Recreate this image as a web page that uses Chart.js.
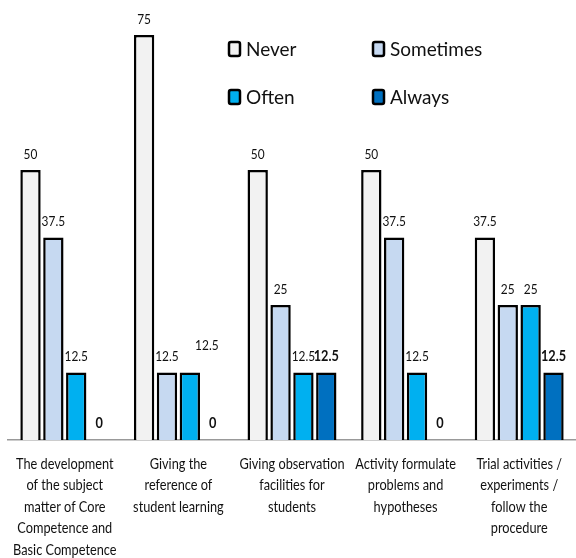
<!DOCTYPE html>
<html>
<head>
<meta charset="utf-8">
<script src="https://cdn.jsdelivr.net/npm/chart.js@4/dist/chart.umd.min.js"></script>
<style>
    html, body { margin: 0; padding: 0; background: #fff; }
    #wrap { width: 576px; height: 558px; position: relative; }
</style>
</head>
<body>
<div id="wrap"><canvas id="chart"></canvas></div>
<script>
// Catégories (libellés sur plusieurs lignes)
const categories = [
    ['The development', 'of the subject', 'matter of Core', 'Competence and', 'Basic Competence'],
    ['Giving the', 'reference of', 'student learning'],
    ['Giving observation', 'facilities for', 'students'],
    ['Activity formulate', 'problems and', 'hypotheses'],
    ['Trial activities /', 'experiments /', 'follow the', 'procedure']
];

const seriesNames = ['Never', 'Sometimes', 'Often', 'Always'];
const neverValues = [50, 75, 50, 50, 37.5];
const sometimesValues = [37.5, 12.5, 25, 37.5, 25];
const oftenValues = [12.5, 12.5, 12.5, 12.5, 25];
const alwaysValues = [0, 0, 12.5, 0, 12.5];

const colors = ['#F2F2F2', '#C6D9F1', '#00B0F0', '#0070C0'];
const FONT = 'Lato, "Open Sans", sans-serif';
const SQUEEZE = 0.85; // police condensée façon Calibri

// Texte compressé horizontalement
function narrowText(ctx, text, x, y) {
    ctx.save();
    ctx.translate(x, y);
    ctx.scale(SQUEEZE, 1);
    ctx.fillText(text, 0, 0);
    ctx.restore();
}

// Étiquettes de valeur au-dessus des barres
const valueLabels = {
    id: 'valueLabels',
    afterDatasetsDraw(chart) {
        const ctx = chart.ctx;
        ctx.save();
        ctx.textAlign = 'center';
        ctx.textBaseline = 'bottom';
        ctx.fillStyle = '#111';
        chart.data.datasets.forEach((ds, di) => {
            const meta = chart.getDatasetMeta(di);
            const bold = di === 3;
            ctx.font = (bold ? 'bold 15px ' : '14px ') + FONT;
            meta.data.forEach((bar, i) => {
                let x = bar.x;
                let y = bar.y - 9;
                // étiquette décalée dans l'original
                if (di === 2 && i === 1) { x += 17; y -= 11; }
                narrowText(ctx, String(ds.data[i]), x, y);
            });
        });
        ctx.restore();
    }
};

// Libellés de l'axe X (multi-lignes)
const categoryLabels = {
    id: 'categoryLabels',
    afterDraw(chart) {
        const ctx = chart.ctx;
        const xScale = chart.scales.x;
        const top = chart.chartArea.bottom + 24;
        ctx.save();
        ctx.font = '15px ' + FONT;
        ctx.fillStyle = '#111';
        ctx.textAlign = 'center';
        ctx.textBaseline = 'middle';
        categories.forEach((lines, i) => {
            const x = xScale.getPixelForTick(i);
            lines.forEach((line, j) => narrowText(ctx, line, x, top + j * 21.5));
        });
        ctx.restore();
    }
};

// Légende 2x2 en haut à droite
const gridLegend = {
    id: 'gridLegend',
    afterDraw(chart) {
        const ctx = chart.ctx;
        const cols = [229, 373];
        const rows = [49, 97];
        ctx.save();
        ctx.font = '19px ' + FONT;
        ctx.textBaseline = 'middle';
        ctx.textAlign = 'left';
        seriesNames.forEach((name, k) => {
            const x = cols[k % 2];
            const y = rows[Math.floor(k / 2)];
            ctx.fillStyle = colors[k];
            ctx.strokeStyle = '#000';
            ctx.lineWidth = 2.5;
            ctx.beginPath();
            ctx.roundRect(x, y - 7, 11, 14, 2);
            ctx.fill();
            ctx.stroke();
            ctx.fillStyle = '#111';
            ctx.fillText(name, x + 17, y + 1);
        });
        ctx.restore();
    }
};

const allValues = [neverValues, sometimesValues, oftenValues, alwaysValues];

new Chart(document.getElementById('chart'), {
    type: 'bar',
    data: {
        labels: categories.map(c => c.join(' ')),
        datasets: seriesNames.map((name, k) => ({
            label: name,
            data: allValues[k],
            backgroundColor: colors[k],
            borderColor: '#000',
            borderWidth: 2.5,
            categoryPercentage: 0.805,
            barPercentage: 0.89
        }))
    },
    options: {
        responsive: true,
        maintainAspectRatio: false,
        animation: false,
        layout: { padding: { top: 8, left: 8, right: -4, bottom: 0 } },
        plugins: {
            legend: { display: false },
            tooltip: { enabled: false }
        },
        scales: {
            x: {
                grid: { display: false },
                border: { color: '#999', width: 1.5 },
                ticks: { display: false },
                afterFit: (s) => { s.height = 118; }
            },
            y: {
                display: false,
                min: 0,
                max: 80
            }
        }
    },
    plugins: [valueLabels, categoryLabels, gridLegend]
});
</script>
</body>
</html>
